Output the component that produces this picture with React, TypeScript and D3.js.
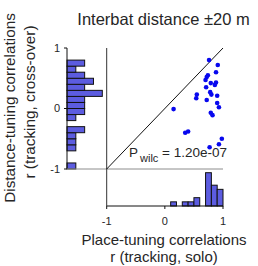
import React from 'react';
import * as d3 from 'd3';

// scatter: place-tuning r (solo) vs distance-tuning r (cross-over)
const placeR = [0.76, 0.91, 0.88, 0.74, 0.72, 0.70, 0.79, 0.88, 0.86, 0.71, 0.78, 0.80, 0.55,
  0.54, 0.90, 0.72, 0.90, 0.93, 0.15, 0.79, 0.82, 0.40, 0.35, 0.98, 0.93, 0.77];
const distR = [0.80, 0.72, 0.60, 0.55, 0.52, 0.47, 0.42, 0.43, 0.39, 0.35, 0.27, 0.23, 0.23,
  0.17, 0.21, 0.14, 0.09, 0.02, -0.01, -0.07, -0.11, -0.38, -0.40, -0.50, -0.59, -0.64];

// histogram bins (start of each 0.1 bin)
const binStarts = [-1, -0.9, -0.8, -0.7, -0.6, -0.5, -0.4, -0.3, -0.2, -0.1,
  0, 0.1, 0.2, 0.3, 0.4, 0.5, 0.6, 0.7, 0.8, 0.9];
const distCounts = [1, 0, 0, 1, 1, 1, 2, 0, 1, 2, 2, 2, 4, 2, 3, 2, 1, 2, 0, 0];
const placeCounts = [0, 0, 0, 0, 0, 0, 0, 0, 0, 0, 0, 1, 0, 1, 1, 2, 0, 8, 5, 4];

const ticks = [-1, 0, 1];
const pText = '1.20e-07';

const font = '"Liberation Sans", Arial, Helvetica, sans-serif';
const txt = '#262626';
const barFill = '#5c5ce0';
const dotFill = '#0808ee';

export default function App() {
  const x = d3.scaleLinear().domain([-1, 1]).range([106.7, 223]);
  const y = d3.scaleLinear().domain([-1, 1]).range([169, 48]);
  // histogram heights
  const hx = d3.scaleLinear().domain([0, 4]).range([67, 102.3]);
  const hy = d3.scaleLinear().domain([0, 8]).range([206, 172.7]);
  const bw = 0.1;

  const diag = d3.line<number>().x(d => x(d)).y(d => y(d));

  return (
    <svg width={258} height={266} style={{ position: 'absolute', left: 0, top: 0, background: '#fff' }}
      fontFamily={font}>
      <text x={163.5} y={25} textAnchor="middle" fontSize={16.5} fill={txt}>Interbat distance ±20 m</text>

      {/* left histogram */}
      {binStarts.map((b, i) => (
        <rect key={'l' + i} x={hx(0)} y={y(b + bw)} width={hx(distCounts[i]) - hx(0)}
          height={y(b) - y(b + bw)} fill={barFill} stroke="#111" strokeWidth={1} />
      ))}
      <line x1={hx(0)} x2={hx(0)} y1={y(1)} y2={y(-1)} stroke="#111" />
      {ticks.map(t => (
        <g key={'yt' + t}>
          <line x1={hx(0) - 3} x2={hx(0)} y1={y(t)} y2={y(t)} stroke="#111" />
          <text x={hx(0) - 7} y={y(t)} dy="0.35em" textAnchor="end" fontSize={11} fill={txt}>{t}</text>
        </g>
      ))}

      {/* bottom histogram */}
      {binStarts.map((b, i) => (
        <rect key={'b' + i} x={x(b)} y={hy(placeCounts[i])} width={x(b + bw) - x(b)}
          height={hy(0) - hy(placeCounts[i])} fill={barFill} stroke="#111" strokeWidth={1} />
      ))}
      <line x1={x(-1)} x2={x(1)} y1={hy(0)} y2={hy(0)} stroke="#111" />
      {ticks.map(t => (
        <g key={'xt' + t}>
          <line x1={x(t)} x2={x(t)} y1={hy(0)} y2={hy(0) + 3} stroke="#111" />
          <text x={x(t)} y={hy(0) + 19} textAnchor="middle" fontSize={11} fill={txt}>{t}</text>
        </g>
      ))}

      {/* scatter frame */}
      <line x1={hx(0)} x2={x(1)} y1={y(-1)} y2={y(-1)} stroke="#8c8c8c" />
      <line x1={x(-1)} x2={x(-1)} y1={y(1)} y2={hy(0)} stroke="#333" />
      <path d={diag([-1, 1]) || ''} stroke="#111" fill="none" />

      {placeR.map((v, i) => (
        <circle key={'p' + i} cx={x(v)} cy={y(distR[i])} r={2.3} fill={dotFill} />
      ))}

      <text x={129} y={157} fontSize={13.5} fill={txt}>
        P<tspan dx={2} dy={5} fontSize={11}>wilc</tspan>
        <tspan dy={-5} fontSize={13.5}> = {pText}</tspan>
      </text>

      {/* axis labels */}
      <text x={164} y={245} textAnchor="middle" fontSize={15} fill={txt}>Place-tuning correlations</text>
      <text x={164} y={261.5} textAnchor="middle" fontSize={15} fill={txt}>r (tracking, solo)</text>
      <text transform="translate(15,108) rotate(-90)" textAnchor="middle" fontSize={15.3} fill={txt}>
        Distance-tuning correlations</text>
      <text transform="translate(35,102) rotate(-90)" textAnchor="middle" fontSize={15.3} fill={txt}>
        r (tracking, cross-over)</text>
    </svg>
  );
}
